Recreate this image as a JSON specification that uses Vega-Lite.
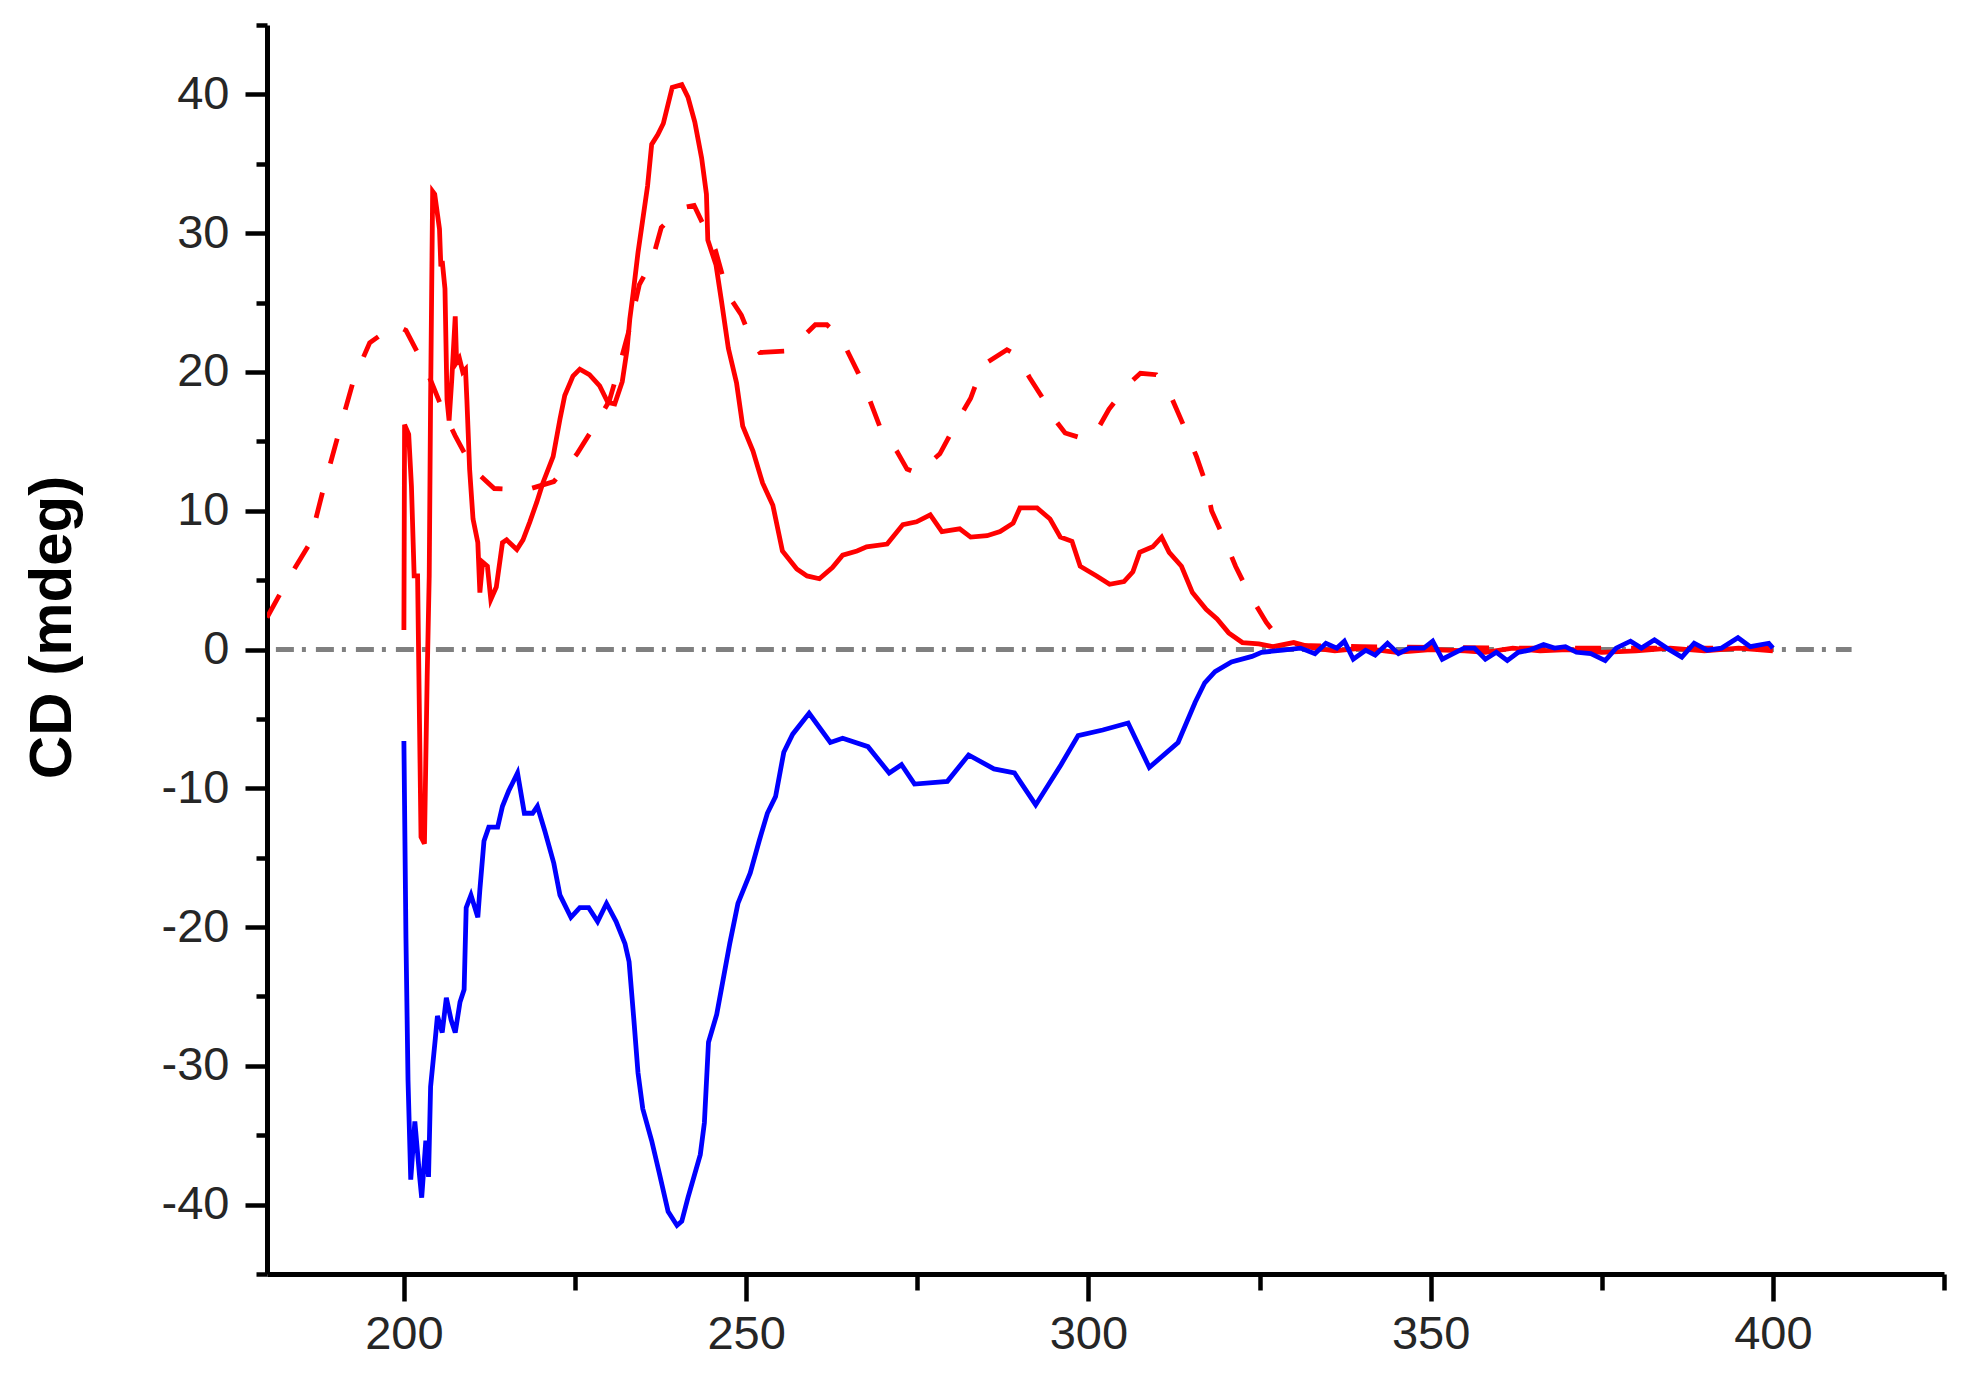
{
  "$schema": "https://vega.github.io/schema/vega-lite/v6.json",
  "width": 1677,
  "height": 1249,
  "autosize": {"type": "none"},
  "padding": {"left": 267, "top": 25, "right": 23, "bottom": 111},
  "background": "white",
  "config": {
    "view": {"stroke": null},
    "font": "Liberation Sans",
    "axis": {
      "grid": false,
      "domainColor": "#000000",
      "domainWidth": 5,
      "tickColor": "#000000",
      "tickWidth": 4.5,
      "labelFont": "Liberation Sans",
      "labelFontSize": 47,
      "labelColor": "#262626",
      "titleFont": "Liberation Sans"
    }
  },
  "datasets": {
    "zero": [
      {"wavelength": 181.3, "cd": 0},
      {"wavelength": 411.5, "cd": 0}
    ],
    "dashed": [
      {"wavelength": 180.0, "cd": 2.3},
      {"wavelength": 183.0, "cd": 5.0},
      {"wavelength": 186.2, "cd": 7.6},
      {"wavelength": 188.2, "cd": 11.5},
      {"wavelength": 190.7, "cd": 16.0},
      {"wavelength": 192.7, "cd": 19.5},
      {"wavelength": 195.0, "cd": 22.1},
      {"wavelength": 198.7, "cd": 23.4},
      {"wavelength": 200.3, "cd": 23.0},
      {"wavelength": 202.3, "cd": 21.1},
      {"wavelength": 204.0, "cd": 19.3},
      {"wavelength": 205.9, "cd": 17.0},
      {"wavelength": 207.5, "cd": 15.4},
      {"wavelength": 210.1, "cd": 13.0},
      {"wavelength": 213.2, "cd": 11.6},
      {"wavelength": 217.9, "cd": 11.5},
      {"wavelength": 221.9, "cd": 12.1},
      {"wavelength": 225.3, "cd": 14.1},
      {"wavelength": 227.7, "cd": 16.0},
      {"wavelength": 230.0, "cd": 17.9},
      {"wavelength": 231.3, "cd": 20.1},
      {"wavelength": 233.0, "cd": 23.2},
      {"wavelength": 234.4, "cd": 26.3},
      {"wavelength": 236.2, "cd": 27.9},
      {"wavelength": 237.6, "cd": 30.4},
      {"wavelength": 240.5, "cd": 31.8},
      {"wavelength": 242.4, "cd": 32.0},
      {"wavelength": 245.5, "cd": 28.8},
      {"wavelength": 247.3, "cd": 25.6},
      {"wavelength": 249.3, "cd": 24.1},
      {"wavelength": 250.6, "cd": 22.5},
      {"wavelength": 252.0, "cd": 21.4},
      {"wavelength": 255.7, "cd": 21.5},
      {"wavelength": 257.8, "cd": 22.3},
      {"wavelength": 260.1, "cd": 23.4},
      {"wavelength": 261.8, "cd": 23.4},
      {"wavelength": 263.8, "cd": 22.5},
      {"wavelength": 266.4, "cd": 19.9},
      {"wavelength": 267.8, "cd": 18.3},
      {"wavelength": 269.5, "cd": 16.1},
      {"wavelength": 272.0, "cd": 14.3},
      {"wavelength": 273.5, "cd": 13.0},
      {"wavelength": 275.1, "cd": 12.7},
      {"wavelength": 278.3, "cd": 14.1},
      {"wavelength": 280.9, "cd": 16.5},
      {"wavelength": 282.8, "cd": 18.1},
      {"wavelength": 284.6, "cd": 20.5},
      {"wavelength": 288.1, "cd": 21.6},
      {"wavelength": 289.6, "cd": 21.2},
      {"wavelength": 291.4, "cd": 19.6},
      {"wavelength": 293.6, "cd": 17.9},
      {"wavelength": 295.2, "cd": 16.5},
      {"wavelength": 296.6, "cd": 15.6},
      {"wavelength": 299.9, "cd": 15.1},
      {"wavelength": 301.5, "cd": 16.0},
      {"wavelength": 303.0, "cd": 17.3},
      {"wavelength": 305.6, "cd": 19.0},
      {"wavelength": 307.6, "cd": 19.9},
      {"wavelength": 309.9, "cd": 19.8},
      {"wavelength": 312.1, "cd": 18.2},
      {"wavelength": 314.3, "cd": 15.7},
      {"wavelength": 315.8, "cd": 13.9},
      {"wavelength": 317.2, "cd": 11.9},
      {"wavelength": 318.0, "cd": 10.0},
      {"wavelength": 320.0, "cd": 7.8},
      {"wavelength": 321.5, "cd": 6.0},
      {"wavelength": 322.8, "cd": 4.7},
      {"wavelength": 323.8, "cd": 3.75},
      {"wavelength": 326.0, "cd": 1.95},
      {"wavelength": 327.8, "cd": 0.8},
      {"wavelength": 331.0, "cd": 0.3},
      {"wavelength": 340.0, "cd": 0.2},
      {"wavelength": 360.0, "cd": 0.1},
      {"wavelength": 380.0, "cd": 0.1},
      {"wavelength": 400.0, "cd": 0.1}
    ],
    "solid": [
      {"wavelength": 200.0, "cd": 1.4},
      {"wavelength": 200.1, "cd": 16.2},
      {"wavelength": 200.7, "cd": 15.5},
      {"wavelength": 201.1, "cd": 11.8},
      {"wavelength": 201.5, "cd": 5.3},
      {"wavelength": 202.0, "cd": 5.3},
      {"wavelength": 202.5, "cd": -13.5},
      {"wavelength": 203.0, "cd": -14.0},
      {"wavelength": 203.4, "cd": -2.0},
      {"wavelength": 203.7, "cd": 5.3},
      {"wavelength": 203.9, "cd": 18.0},
      {"wavelength": 204.2, "cd": 33.0},
      {"wavelength": 204.5, "cd": 32.8},
      {"wavelength": 205.2, "cd": 30.3},
      {"wavelength": 205.4, "cd": 27.6},
      {"wavelength": 205.6, "cd": 28.0},
      {"wavelength": 206.0, "cd": 26.0},
      {"wavelength": 206.3, "cd": 18.0},
      {"wavelength": 206.6, "cd": 16.5},
      {"wavelength": 207.0, "cd": 19.5},
      {"wavelength": 207.5, "cd": 24.0},
      {"wavelength": 207.7, "cd": 20.7},
      {"wavelength": 208.1, "cd": 21.0},
      {"wavelength": 208.6, "cd": 20.0},
      {"wavelength": 209.0, "cd": 20.2},
      {"wavelength": 209.2, "cd": 18.0},
      {"wavelength": 209.6, "cd": 13.0},
      {"wavelength": 210.1, "cd": 9.4},
      {"wavelength": 210.8, "cd": 7.7},
      {"wavelength": 211.1, "cd": 4.1},
      {"wavelength": 211.5, "cd": 6.3},
      {"wavelength": 212.2, "cd": 6.0},
      {"wavelength": 212.7, "cd": 3.6},
      {"wavelength": 213.5, "cd": 4.5},
      {"wavelength": 214.4, "cd": 7.7},
      {"wavelength": 215.0, "cd": 7.9},
      {"wavelength": 216.5, "cd": 7.2},
      {"wavelength": 217.4, "cd": 7.9},
      {"wavelength": 218.4, "cd": 9.2},
      {"wavelength": 219.4, "cd": 10.6},
      {"wavelength": 220.3, "cd": 12.0},
      {"wavelength": 221.8, "cd": 13.9},
      {"wavelength": 222.8, "cd": 16.6},
      {"wavelength": 223.5, "cd": 18.3},
      {"wavelength": 224.7, "cd": 19.7},
      {"wavelength": 225.7, "cd": 20.2},
      {"wavelength": 227.1, "cd": 19.8},
      {"wavelength": 228.6, "cd": 19.0},
      {"wavelength": 229.8, "cd": 17.8},
      {"wavelength": 230.8, "cd": 17.7},
      {"wavelength": 231.9, "cd": 19.3},
      {"wavelength": 232.6, "cd": 21.6},
      {"wavelength": 233.0, "cd": 23.8},
      {"wavelength": 233.5, "cd": 25.7},
      {"wavelength": 234.2, "cd": 28.6},
      {"wavelength": 234.9, "cd": 31.0},
      {"wavelength": 235.6, "cd": 33.4},
      {"wavelength": 236.2, "cd": 36.4},
      {"wavelength": 237.1, "cd": 37.1},
      {"wavelength": 237.9, "cd": 37.9},
      {"wavelength": 239.2, "cd": 40.5},
      {"wavelength": 240.6, "cd": 40.7},
      {"wavelength": 241.5, "cd": 39.8},
      {"wavelength": 242.5, "cd": 38.0},
      {"wavelength": 243.5, "cd": 35.4},
      {"wavelength": 244.2, "cd": 32.8},
      {"wavelength": 244.4, "cd": 29.5},
      {"wavelength": 245.6, "cd": 27.7},
      {"wavelength": 246.4, "cd": 25.1},
      {"wavelength": 247.4, "cd": 21.7},
      {"wavelength": 248.6, "cd": 19.2},
      {"wavelength": 249.5, "cd": 16.1},
      {"wavelength": 251.0, "cd": 14.3},
      {"wavelength": 252.4, "cd": 12.0},
      {"wavelength": 253.9, "cd": 10.4},
      {"wavelength": 255.3, "cd": 7.1},
      {"wavelength": 257.4, "cd": 5.8},
      {"wavelength": 258.9, "cd": 5.3},
      {"wavelength": 260.7, "cd": 5.1},
      {"wavelength": 262.6, "cd": 5.9},
      {"wavelength": 264.1, "cd": 6.8},
      {"wavelength": 266.2, "cd": 7.1},
      {"wavelength": 267.6, "cd": 7.4},
      {"wavelength": 270.6, "cd": 7.6},
      {"wavelength": 272.9, "cd": 9.0},
      {"wavelength": 274.9, "cd": 9.2},
      {"wavelength": 276.9, "cd": 9.7},
      {"wavelength": 278.6, "cd": 8.5},
      {"wavelength": 281.2, "cd": 8.7},
      {"wavelength": 282.8, "cd": 8.1},
      {"wavelength": 285.2, "cd": 8.2},
      {"wavelength": 287.1, "cd": 8.5},
      {"wavelength": 289.0, "cd": 9.1},
      {"wavelength": 290.0, "cd": 10.2},
      {"wavelength": 292.5, "cd": 10.2},
      {"wavelength": 294.4, "cd": 9.4},
      {"wavelength": 295.9, "cd": 8.1},
      {"wavelength": 297.6, "cd": 7.8},
      {"wavelength": 298.8, "cd": 6.0},
      {"wavelength": 301.2, "cd": 5.3},
      {"wavelength": 303.1, "cd": 4.7},
      {"wavelength": 305.2, "cd": 4.9},
      {"wavelength": 306.5, "cd": 5.6},
      {"wavelength": 307.5, "cd": 7.0},
      {"wavelength": 309.4, "cd": 7.4},
      {"wavelength": 310.7, "cd": 8.1},
      {"wavelength": 311.8, "cd": 7.0},
      {"wavelength": 313.6, "cd": 6.0},
      {"wavelength": 315.2, "cd": 4.1},
      {"wavelength": 317.2, "cd": 2.9},
      {"wavelength": 318.8, "cd": 2.2},
      {"wavelength": 320.5, "cd": 1.2},
      {"wavelength": 322.5, "cd": 0.5},
      {"wavelength": 324.9, "cd": 0.4},
      {"wavelength": 327.0, "cd": 0.2},
      {"wavelength": 330.0, "cd": 0.5},
      {"wavelength": 333.0, "cd": 0.1},
      {"wavelength": 336.0, "cd": -0.1},
      {"wavelength": 340.0, "cd": 0.1},
      {"wavelength": 345.0, "cd": -0.2},
      {"wavelength": 350.0, "cd": 0.0},
      {"wavelength": 355.0, "cd": -0.1},
      {"wavelength": 358.0, "cd": -0.2},
      {"wavelength": 362.0, "cd": 0.1},
      {"wavelength": 366.0, "cd": -0.1},
      {"wavelength": 370.0, "cd": 0.0},
      {"wavelength": 375.0, "cd": -0.2},
      {"wavelength": 380.0, "cd": -0.1},
      {"wavelength": 385.0, "cd": 0.1},
      {"wavelength": 390.0, "cd": -0.1},
      {"wavelength": 395.0, "cd": 0.1},
      {"wavelength": 400.0, "cd": -0.1}
    ],
    "blue": [
      {"wavelength": 200.0, "cd": -6.6},
      {"wavelength": 200.3, "cd": -20.8},
      {"wavelength": 200.6, "cd": -31.0},
      {"wavelength": 201.0, "cd": -38.2},
      {"wavelength": 201.6, "cd": -34.0},
      {"wavelength": 202.3, "cd": -38.0},
      {"wavelength": 202.6, "cd": -39.5},
      {"wavelength": 203.2, "cd": -35.4},
      {"wavelength": 203.6, "cd": -38.0},
      {"wavelength": 203.9, "cd": -31.5},
      {"wavelength": 204.6, "cd": -28.0},
      {"wavelength": 204.9, "cd": -26.4},
      {"wavelength": 205.6, "cd": -27.6},
      {"wavelength": 206.2, "cd": -25.1},
      {"wavelength": 206.9, "cd": -26.7},
      {"wavelength": 207.5, "cd": -27.6},
      {"wavelength": 208.2, "cd": -25.4},
      {"wavelength": 208.8, "cd": -24.5},
      {"wavelength": 209.1, "cd": -18.6},
      {"wavelength": 209.8, "cd": -17.7},
      {"wavelength": 210.8, "cd": -19.3},
      {"wavelength": 211.1, "cd": -17.3},
      {"wavelength": 211.7, "cd": -13.8},
      {"wavelength": 212.4, "cd": -12.8},
      {"wavelength": 213.7, "cd": -12.8},
      {"wavelength": 214.4, "cd": -11.3},
      {"wavelength": 215.3, "cd": -10.2},
      {"wavelength": 216.6, "cd": -8.9},
      {"wavelength": 217.6, "cd": -11.8},
      {"wavelength": 218.8, "cd": -11.8},
      {"wavelength": 219.5, "cd": -11.3},
      {"wavelength": 220.6, "cd": -13.1},
      {"wavelength": 221.9, "cd": -15.4},
      {"wavelength": 222.8, "cd": -17.7},
      {"wavelength": 224.4, "cd": -19.3},
      {"wavelength": 225.7, "cd": -18.6},
      {"wavelength": 227.0, "cd": -18.6},
      {"wavelength": 228.3, "cd": -19.6},
      {"wavelength": 229.6, "cd": -18.3},
      {"wavelength": 231.0, "cd": -19.6},
      {"wavelength": 232.3, "cd": -21.2},
      {"wavelength": 232.9, "cd": -22.5},
      {"wavelength": 233.6, "cd": -26.7},
      {"wavelength": 234.2, "cd": -30.5},
      {"wavelength": 234.9, "cd": -33.1},
      {"wavelength": 236.2, "cd": -35.4},
      {"wavelength": 237.3, "cd": -37.7},
      {"wavelength": 238.6, "cd": -40.5},
      {"wavelength": 239.9, "cd": -41.5},
      {"wavelength": 240.6, "cd": -41.2},
      {"wavelength": 241.5, "cd": -39.5},
      {"wavelength": 243.3, "cd": -36.4},
      {"wavelength": 243.9, "cd": -34.1},
      {"wavelength": 244.5, "cd": -28.3},
      {"wavelength": 245.7, "cd": -26.3},
      {"wavelength": 247.6, "cd": -21.2},
      {"wavelength": 248.8, "cd": -18.3},
      {"wavelength": 250.6, "cd": -16.1},
      {"wavelength": 251.9, "cd": -13.8},
      {"wavelength": 253.1, "cd": -11.8},
      {"wavelength": 254.3, "cd": -10.6},
      {"wavelength": 255.5, "cd": -7.4},
      {"wavelength": 256.8, "cd": -6.1},
      {"wavelength": 259.2, "cd": -4.6},
      {"wavelength": 262.3, "cd": -6.7},
      {"wavelength": 264.1, "cd": -6.4},
      {"wavelength": 267.8, "cd": -7.0},
      {"wavelength": 270.9, "cd": -8.9},
      {"wavelength": 272.7, "cd": -8.3},
      {"wavelength": 274.6, "cd": -9.7},
      {"wavelength": 279.4, "cd": -9.5},
      {"wavelength": 282.5, "cd": -7.6},
      {"wavelength": 286.2, "cd": -8.6},
      {"wavelength": 289.2, "cd": -8.9},
      {"wavelength": 292.3, "cd": -11.2},
      {"wavelength": 296.0, "cd": -8.3},
      {"wavelength": 298.5, "cd": -6.2},
      {"wavelength": 302.1, "cd": -5.8},
      {"wavelength": 305.8, "cd": -5.3},
      {"wavelength": 308.9, "cd": -8.5},
      {"wavelength": 313.1, "cd": -6.7},
      {"wavelength": 315.6, "cd": -3.8},
      {"wavelength": 317.0, "cd": -2.4},
      {"wavelength": 318.5, "cd": -1.6},
      {"wavelength": 320.9, "cd": -0.9},
      {"wavelength": 323.9, "cd": -0.5},
      {"wavelength": 325.3, "cd": -0.2},
      {"wavelength": 328.4, "cd": -0.05},
      {"wavelength": 331.0, "cd": 0.1},
      {"wavelength": 333.1, "cd": -0.3},
      {"wavelength": 334.7, "cd": 0.45},
      {"wavelength": 336.3, "cd": 0.1},
      {"wavelength": 337.4, "cd": 0.6},
      {"wavelength": 338.7, "cd": -0.7},
      {"wavelength": 340.5, "cd": -0.05},
      {"wavelength": 341.9, "cd": -0.4},
      {"wavelength": 343.7, "cd": 0.45},
      {"wavelength": 345.3, "cd": -0.3},
      {"wavelength": 346.9, "cd": 0.1},
      {"wavelength": 349.0, "cd": 0.1},
      {"wavelength": 350.3, "cd": 0.6},
      {"wavelength": 351.7, "cd": -0.7},
      {"wavelength": 353.3, "cd": -0.3},
      {"wavelength": 354.9, "cd": 0.1},
      {"wavelength": 356.4, "cd": 0.1},
      {"wavelength": 358.0, "cd": -0.7},
      {"wavelength": 359.6, "cd": -0.2},
      {"wavelength": 361.2, "cd": -0.8},
      {"wavelength": 362.8, "cd": -0.2},
      {"wavelength": 364.4, "cd": -0.05},
      {"wavelength": 366.5, "cd": 0.35},
      {"wavelength": 368.1, "cd": 0.1},
      {"wavelength": 369.7, "cd": 0.2},
      {"wavelength": 371.3, "cd": -0.2},
      {"wavelength": 373.4, "cd": -0.3},
      {"wavelength": 375.5, "cd": -0.8},
      {"wavelength": 377.1, "cd": 0.1},
      {"wavelength": 379.2, "cd": 0.6},
      {"wavelength": 380.8, "cd": 0.1},
      {"wavelength": 382.7, "cd": 0.7},
      {"wavelength": 384.5, "cd": 0.1},
      {"wavelength": 386.7, "cd": -0.55},
      {"wavelength": 388.5, "cd": 0.45},
      {"wavelength": 390.4, "cd": -0.05},
      {"wavelength": 392.5, "cd": 0.1},
      {"wavelength": 394.9, "cd": 0.85},
      {"wavelength": 396.7, "cd": 0.2},
      {"wavelength": 399.4, "cd": 0.45},
      {"wavelength": 400.0, "cd": 0.1}
    ]
  },
  "encoding": {
    "x": {
      "field": "wavelength",
      "type": "quantitative",
      "scale": {"domain": [180, 425], "nice": false, "zero": false},
      "axis": {
        "title": null,
        "values": [200, 225, 250, 275, 300, 325, 350, 375, 400, 425],
        "tickSize": {"condition": {"test": "datum.value % 50 !== 0", "value": 16}, "value": 27},
        "labelExpr": "datum.value % 50 === 0 ? ('' + datum.value) : ''",
        "labelPadding": 10,
        "labelFlush": false,
        "labelOverlap": false
      }
    },
    "y": {
      "field": "cd",
      "type": "quantitative",
      "scale": {"domain": [-45, 45], "nice": false, "zero": false},
      "axis": {
        "title": "CD (mdeg)",
        "titleFontSize": 60,
        "titleFontWeight": "bold",
        "titleColor": "#000000",
        "titleAngle": -90,
        "titleAlign": "center",
        "titleBaseline": "alphabetic",
        "titleX": -197,
        "titleY": 602,
        "values": [-45, -40, -35, -30, -25, -20, -15, -10, -5, 0, 5, 10, 15, 20, 25, 30, 35, 40, 45],
        "tickSize": {"condition": {"test": "datum.value % 10 !== 0", "value": 11}, "value": 22},
        "labelExpr": "datum.value % 10 === 0 ? ('' + datum.value) : ''",
        "labelPadding": 16,
        "labelFlush": false,
        "labelOverlap": false
      }
    }
  },
  "layer": [
    {
      "data": {"name": "zero"},
      "mark": {"type": "line", "color": "#808080", "strokeWidth": 5, "strokeDash": [18, 8, 4, 10], "clip": true}
    },
    {
      "data": {"name": "dashed"},
      "mark": {"type": "line", "color": "#ff0000", "strokeWidth": 4.8, "strokeDash": [26, 30], "clip": true}
    },
    {
      "data": {"name": "solid"},
      "mark": {"type": "line", "color": "#ff0000", "strokeWidth": 4.8, "clip": true}
    },
    {
      "data": {"name": "blue"},
      "mark": {"type": "line", "color": "#0000ff", "strokeWidth": 4.8, "clip": true}
    }
  ]
}
